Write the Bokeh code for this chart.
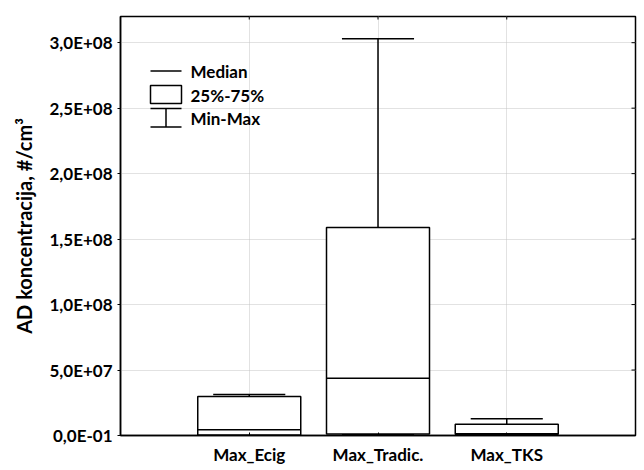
import math
from bokeh.plotting import figure
from bokeh.models import Range1d, FixedTicker, Label, ColumnDataSource
from bokeh.embed import file_html
from bokeh.resources import INLINE

# ---- data ----
categories = ["Max_Ecig", "Max_Tradic.", "Max_TKS"]
positions = [1, 2, 3]
mins = [0.0, 0.5e6, 0.6e6]
q1 = [0.4e6, 1.1e6, 0.9e6]
medians = [4.4e6, 4.38e7, 1.3e6]
q3 = [2.98e7, 1.589e8, 8.5e6]
maxs = [3.13e7, 3.03e8, 1.28e7]
y_ticks = [0, 5e7, 1e8, 1.5e8, 2e8, 2.5e8, 3e8]
y_tick_labels = ["0,0E-01", "5,0E+07", "1,0E+08", "1,5E+08", "2,0E+08", "2,5E+08", "3,0E+08"]
legend_labels = ["Median", "25%-75%", "Min-Max"]
y_label = "AD koncentracija, #/cm\u00b3"

FONT = "Lato"
X0, X1 = 0, 4
Y0, Y1 = 0, 3.2e8
FL, FR, FT, FB = 120, 635, 16, 435  # frame in pixels
W, H = 644, 470

p = figure(width=W, height=H, output_backend="svg", toolbar_location=None,
           x_range=Range1d(X0, X1), y_range=Range1d(Y0, Y1),
           min_border_left=FL, min_border_right=W - FR, min_border_top=FT,
           min_border_bottom=H - FB)
p.outline_line_color = "black"
p.outline_line_width = 1.5

# axes
p.yaxis.ticker = FixedTicker(ticks=y_ticks)
p.yaxis.major_label_overrides = {t: l for t, l in zip(y_ticks, y_tick_labels)}
p.xaxis.ticker = FixedTicker(ticks=positions)
p.xaxis.major_label_overrides = {pos: c for pos, c in zip(positions, categories)}
for ax in (p.xaxis[0], p.yaxis[0]):
    ax.axis_line_color = "black"
    ax.axis_line_width = 1.5
    ax.major_tick_line_color = "black"
    ax.minor_tick_line_color = None
    ax.major_label_text_font = FONT
    ax.major_label_text_font_style = "bold"
    ax.major_label_text_font_size = "17px"
    ax.major_label_text_color = "black"
p.yaxis.major_tick_out = 3
p.yaxis.major_tick_in = 0
p.yaxis.major_label_standoff = 5
p.xaxis.major_tick_out = 0
p.xaxis.major_tick_in = 3
p.xaxis.major_label_standoff = 8
p.yaxis.axis_label = y_label
p.yaxis.axis_label_text_font = FONT
p.yaxis.axis_label_text_font_style = "bold"
p.yaxis.axis_label_text_font_size = "20px"
p.yaxis.axis_label_text_color = "black"
p.yaxis.axis_label_standoff = 10

p.grid.grid_line_color = "#c4c4c4"
p.grid.grid_line_dash = "1 1"
p.grid.grid_line_width = 1
p.xgrid.ticker = FixedTicker(ticks=positions)
p.ygrid.ticker = FixedTicker(ticks=y_ticks)

# inward ticks on the right and top frame edges (half of each dash is clipped)
p.scatter(x=[X1] * len(y_ticks), y=y_ticks, marker="dash", size=8,
          line_color="black", line_width=1)
p.scatter(x=positions, y=[Y1] * len(positions), marker="dash", size=6, angle=math.pi / 2,
          line_color="black", line_width=1)

# ---- boxes ----
src = ColumnDataSource(dict(x=positions, mn=mins, q1=q1, med=medians, q3=q3, mx=maxs,
                            l=[v - 0.4 for v in positions], r=[v + 0.4 for v in positions],
                            cl=[v - 0.28 for v in positions], cr=[v + 0.28 for v in positions]))
LW = 1.5
p.segment(x0="x", y0="q3", x1="x", y1="mx", source=src, line_color="black", line_width=LW)
p.segment(x0="x", y0="mn", x1="x", y1="q1", source=src, line_color="black", line_width=LW)
p.segment(x0="cl", y0="mx", x1="cr", y1="mx", source=src, line_color="black", line_width=LW)
p.segment(x0="cl", y0="mn", x1="cr", y1="mn", source=src, line_color="black", line_width=LW)
p.quad(left="l", right="r", bottom="q1", top="q3", source=src, fill_color="white",
       line_color="black", line_width=LW)
p.segment(x0="l", y0="med", x1="r", y1="med", source=src, line_color="black", line_width=LW)

# ---- legend (drawn in frame) ----
def dx(px):
    return X0 + (px - FL) / (FR - FL) * (X1 - X0)

def dy(py):
    return Y0 + (FB - py) / (FB - FT) * (Y1 - Y0)

lx0, lx1, lxm = dx(150), dx(181), dx(165.5)
p.segment(x0=[lx0], y0=[dy(70.5)], x1=[lx1], y1=[dy(70.5)], line_color="black", line_width=LW)
p.quad(left=[lx0], right=[lx1], bottom=[dy(103)], top=[dy(85)], fill_color="white",
       line_color="black", line_width=LW)
p.segment(x0=[lx0, lx0, lxm], y0=[dy(108), dy(126.5), dy(108)],
          x1=[lx1, lx1, lxm], y1=[dy(108), dy(126.5), dy(126.5)],
          line_color="black", line_width=LW)
for txt, py in zip(legend_labels, [70.5, 95, 118]):
    p.add_layout(Label(x=dx(190), y=dy(py), text=txt, text_baseline="middle",
                       text_font=FONT, text_font_style="bold", text_font_size="17px",
                       text_color="black"))

open("out.html", "w").write(file_html(p, INLINE))
